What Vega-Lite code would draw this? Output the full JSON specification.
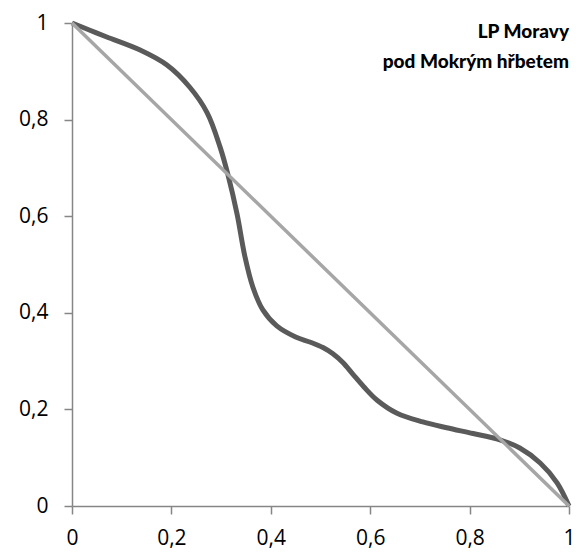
{
  "$schema": "https://vega.github.io/schema/vega-lite/v6.json",
  "autosize": {"type": "none"},
  "width": 497,
  "height": 483,
  "padding": {"left": 72, "top": 23, "right": 16, "bottom": 47},
  "background": "white",
  "title": {
    "text": ["LP Moravy", "pod Mokrým hřbetem"],
    "anchor": "end",
    "orient": "top",
    "frame": "group",
    "baseline": "top",
    "offset": -60,
    "align": "right",
    "font": "Lato",
    "fontSize": 19,
    "fontWeight": 900,
    "lineHeight": 30,
    "color": "black"
  },
  "datasets": {
    "curve": [
      {"x": 0, "y": 1},
      {"x": 0.036, "y": 0.985},
      {"x": 0.07, "y": 0.971},
      {"x": 0.137, "y": 0.944},
      {"x": 0.191, "y": 0.913},
      {"x": 0.237, "y": 0.867},
      {"x": 0.272, "y": 0.814},
      {"x": 0.298, "y": 0.743},
      {"x": 0.314, "y": 0.685},
      {"x": 0.332, "y": 0.605},
      {"x": 0.348, "y": 0.516},
      {"x": 0.364, "y": 0.453},
      {"x": 0.384, "y": 0.406},
      {"x": 0.412, "y": 0.373},
      {"x": 0.45, "y": 0.35},
      {"x": 0.48, "y": 0.339},
      {"x": 0.505, "y": 0.328},
      {"x": 0.525, "y": 0.315},
      {"x": 0.545, "y": 0.297},
      {"x": 0.565, "y": 0.273},
      {"x": 0.587, "y": 0.247},
      {"x": 0.614, "y": 0.219},
      {"x": 0.654, "y": 0.192},
      {"x": 0.706, "y": 0.174},
      {"x": 0.754, "y": 0.162},
      {"x": 0.807, "y": 0.15},
      {"x": 0.861, "y": 0.137},
      {"x": 0.901, "y": 0.12},
      {"x": 0.942, "y": 0.089},
      {"x": 0.976, "y": 0.048},
      {"x": 1, "y": 0}
    ],
    "diag": [
      {"x": 0, "y": 1},
      {"x": 1, "y": 0}
    ]
  },
  "encoding": {
    "x": {
      "field": "x", "type": "quantitative",
      "scale": {"domain": [0, 1], "nice": false, "zero": false},
      "axis": {
        "title": null, "grid": false,
        "values": [0, 0.2, 0.4, 0.6, 0.8, 1],
        "labelExpr": "replace(toString(datum.value), '.', ',')",
        "domainColor": "#868686", "domainWidth": 1.5,
        "tickColor": "#868686", "tickWidth": 1.5, "tickSize": 8,
        "labelFont": "Open Sans", "labelFontSize": 21, "labelColor": "black",
        "labelPadding": 13, "labelFlush": false
      }
    },
    "y": {
      "field": "y", "type": "quantitative",
      "scale": {"domain": [0, 1], "nice": false, "zero": false},
      "axis": {
        "title": null, "grid": false,
        "values": [0, 0.2, 0.4, 0.6, 0.8, 1],
        "labelExpr": "replace(toString(datum.value), '.', ',')",
        "domainColor": "#868686", "domainWidth": 1.5,
        "tickColor": "#868686", "tickWidth": 1.5, "tickSize": 8,
        "labelFont": "Open Sans", "labelFontSize": 21, "labelColor": "black",
        "labelPadding": 16, "labelFlush": false
      }
    }
  },
  "layer": [
    {
      "data": {"name": "curve"},
      "mark": {"type": "line", "interpolate": "catmull-rom", "color": "#5a5a5a", "strokeWidth": 5},
      "encoding": {"order": {"field": "x", "type": "quantitative"}}
    },
    {
      "data": {"name": "diag"},
      "mark": {"type": "line", "color": "#a6a6a6", "strokeWidth": 3.5},
      "encoding": {}
    }
  ],
  "config": {"view": {"stroke": null}}
}
